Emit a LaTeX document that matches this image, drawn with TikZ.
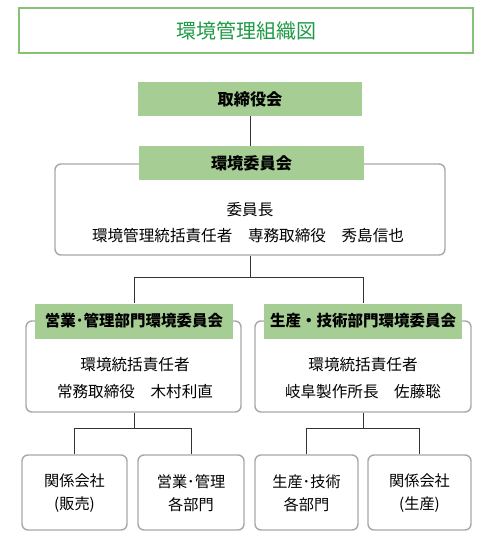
\documentclass[tikz,border=0pt]{standalone}
\usepackage{fontspec}
\setmainfont{Noto Sans CJK JP}
\definecolor{hdr}{HTML}{A6CE94}
\definecolor{ttlborder}{HTML}{86C274}
\definecolor{ttltext}{HTML}{1E9A46}
\definecolor{boxgrey}{HTML}{A8A8A8}
\definecolor{lnk}{HTML}{333333}
\tikzset{
  ttl/.style={draw=ttlborder,line width=1.5pt,minimum width=454pt,minimum height=45pt,inner sep=0pt,text=ttltext,font=\fontsize{20}{22}\selectfont},
  hdrbox/.style={fill=hdr,draw=none,inner sep=0pt,font=\bfseries\fontsize{15.5}{17}\selectfont},
  tophdr/.style={hdrbox,font=\bfseries\fontsize{16.2}{18}\selectfont},
  outerbox/.style={draw=boxgrey,line width=1.4pt,rounded corners=6pt,fill=white,inner sep=0pt},
  txt/.style={inner sep=0pt,font=\fontsize{15.6}{17}\selectfont},
  btxt/.style={inner sep=0pt,font=\fontsize{15.2}{23}\selectfont,align=center},
  link/.style={draw=lnk,line width=0.9pt},
}
\begin{document}
\begin{tikzpicture}[x=1pt,y=-1pt]
\useasboundingbox (0,0) rectangle (491,537);
% title
\node[ttl] (title) at (246,30.5) {環境管理組織図};
% board
\node[tophdr,minimum width=224pt,minimum height=34pt] (board) at (250,99) {取締役会};
% environment committee
\node[outerbox,minimum width=390pt,minimum height=91pt] (envbox) at (250,209.5) {};
\node[tophdr,minimum width=225pt,minimum height=34pt] (envhdr) at (251.5,163) {環境委員会};
\node[txt] (envl1) at (250,210) {委員長};
\node[txt] (envl2) at (248,236) {環境管理統括責任者　専務取締役　秀島信也};
% left committee
\node[outerbox,minimum width=215pt,minimum height=91pt] (lbox) at (133.5,366.5) {};
\node[hdrbox,minimum width=198pt,minimum height=35pt] (lhdr) at (134,321) {営業･管理部門環境委員会};
\node[txt] (ll1) at (135,365) {環境統括責任者};
\node[txt] (ll2) at (135,392) {常務取締役　木村利直};
% right committee
\node[outerbox,minimum width=216pt,minimum height=91pt] (rbox) at (363,366.5) {};
\node[hdrbox,minimum width=198pt,minimum height=35pt] (rhdr) at (363,321) {生産・技術部門環境委員会};
\node[txt] (rl1) at (363,365) {環境統括責任者};
\node[txt] (rl2) at (363,392) {岐阜製作所長　佐藤聡};
% bottom boxes
\node[outerbox,minimum width=105pt,minimum height=75pt] (b1) at (74.5,492.5) {};
\node[outerbox,minimum width=106pt,minimum height=75pt] (b2) at (191,492.5) {};
\node[outerbox,minimum width=103pt,minimum height=75pt] (b3) at (306.5,492.5) {};
\node[outerbox,minimum width=103pt,minimum height=75pt] (b4) at (419.5,492.5) {};
\node[btxt] (b1t) at (74.5,493.5) {関係会社\\(販売)};
\node[btxt] (b2t) at (191,493.5) {営業･管理\\各部門};
\node[btxt] (b3t) at (306.5,493.5) {生産･技術\\各部門};
\node[btxt] (b4t) at (419.5,493.5) {関係会社\\(生産)};
% connectors
\draw[link] (board.south) -- (board.south |- envhdr.north);
\draw[link] (envbox.south) -- ++(0,22) coordinate (split);
\draw[link] (split) -| (lhdr.north);
\draw[link] (split) -| (rhdr.north);
\draw[link] (lbox.south -| lhdr.north) -- ++(0,16) coordinate (lsplit);
\draw[link] (lsplit) -| (b1.north);
\draw[link] (lsplit) -| (b2.north);
\draw[link] (rbox.south) -- ++(0,16) coordinate (rsplit);
\draw[link] (rsplit) -| (b3.north);
\draw[link] (rsplit) -| (b4.north);
\end{tikzpicture}
\end{document}
